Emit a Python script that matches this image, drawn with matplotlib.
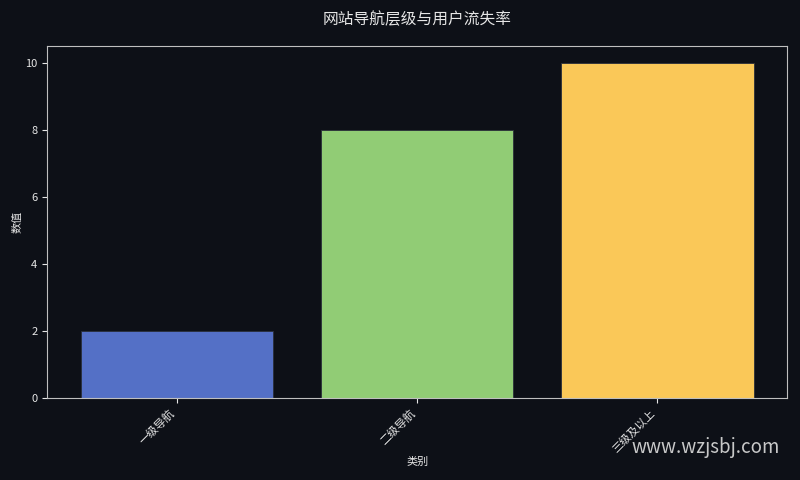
import matplotlib
matplotlib.use("Agg")
import matplotlib.pyplot as plt

categories = ["一级导航", "二级导航", "三级及以上"]
values = [2, 8, 10]
colors = ["#5470C6", "#91CC75", "#FAC858"]

plt.rcParams['font.family'] = ['Noto Sans CJK SC', 'DejaVu Sans']
bg = "#0d1017"
fg = "#e6e6e6"

fig, ax = plt.subplots(figsize=(8, 4.8), dpi=100)
fig.patch.set_facecolor(bg)
ax.set_facecolor(bg)

ax.bar(range(len(categories)), values, width=0.8, color=colors,
       edgecolor="#2a2f3a", linewidth=0.6)
ax.set_xticks(range(len(categories)))
ax.set_xticklabels(categories, rotation=45, ha='right', rotation_mode='default')

ax.set_title("网站导航层级与用户流失率", color=fg, fontsize=11.3, pad=16)
ax.set_xlabel("类别", color=fg, fontsize=8, labelpad=2)
ax.set_ylabel("数值", color=fg, fontsize=8, labelpad=2)

ax.tick_params(colors=fg, labelsize=8)
for s in ax.spines.values():
    s.set_color("#bfbfbf")

fig.subplots_adjust(left=0.059, right=0.984, top=0.904, bottom=0.171)

fig.text(0.975, 0.067, "www.wzjsbj.com", color="#dddddd", fontsize=13.5,
         ha='right', va='center', alpha=0.9)

fig.savefig("out.png", dpi=100, facecolor=bg)
